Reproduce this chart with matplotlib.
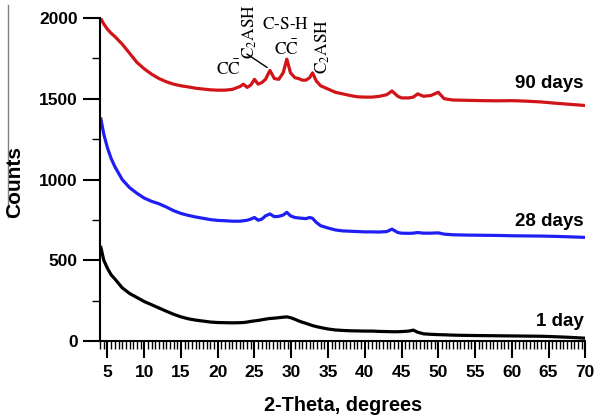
import matplotlib
matplotlib.use("Agg")
import matplotlib.pyplot as plt
from matplotlib.lines import Line2D
from matplotlib.ticker import MultipleLocator

plt.rcParams['font.family'] = ['Liberation Sans', 'DejaVu Sans']
plt.rcParams['mathtext.fontset'] = 'stix'

# 2-theta positions (degrees) and counts for each curing age
two_theta = [4.1, 4.5, 5, 5.5, 6, 7, 8, 9, 10, 11, 12, 13, 14, 15, 16, 17, 18, 19,
             20, 21, 22, 23, 23.5, 24, 24.5, 25, 25.5, 26, 26.5, 27.1, 27.7, 28.3,
             28.9, 29.4, 29.9, 30.5, 31, 31.5, 32, 32.5, 32.9, 33.4, 34, 35, 36, 37,
             38, 39, 40, 41, 42, 43, 43.7, 44.5, 45, 46, 46.6, 47.2, 48, 49, 50, 50.8,
             52, 54, 56, 58, 60, 62, 64, 66, 68, 70]

counts_90d = [1995, 1962, 1930, 1905, 1885, 1838, 1782, 1725, 1685, 1652, 1625, 1605,
              1590, 1580, 1573, 1565, 1560, 1555, 1553, 1553, 1558, 1575, 1590, 1570,
              1585, 1620, 1590, 1600, 1620, 1675, 1625, 1620, 1660, 1745, 1660, 1630,
              1625, 1615, 1615, 1630, 1660, 1610, 1580, 1560, 1540, 1530, 1520, 1512,
              1510, 1510, 1515, 1525, 1548, 1515, 1505, 1505, 1510, 1530, 1515, 1520,
              1540, 1500, 1492, 1490, 1488, 1487, 1488, 1485, 1480, 1472, 1465, 1458]

counts_28d = [1375, 1280, 1195, 1130, 1080, 1000, 950, 915, 885, 865, 850, 830, 807,
              790, 778, 768, 760, 752, 747, 745, 742, 742, 745, 748, 755, 765, 748, 755,
              775, 787, 770, 772, 780, 797, 775, 765, 762, 760, 758, 765, 760, 735, 714,
              700, 688, 682, 680, 678, 676, 676, 675, 678, 693, 672, 668, 667, 668, 672,
              668, 668, 670, 662, 658, 656, 655, 654, 652, 651, 650, 648, 645, 642]

counts_1d = [580, 500, 450, 410, 385, 330, 295, 270, 245, 225, 205, 185, 166, 150, 138,
             130, 124, 118, 115, 114, 113, 114, 115, 118, 122, 125, 128, 132, 136, 140,
             142, 145, 148, 150, 145, 135, 125, 117, 110, 102, 96, 90, 84, 75, 69, 66,
             64, 63, 62, 62, 60, 59, 58, 58, 59, 62, 68, 55, 45, 42, 40, 39, 37, 35, 34,
             33, 32, 31, 30, 27, 23, 18]

series = [("90 days", counts_90d, "#d01418", 1596),
          ("28 days", counts_28d, "#1f1ff5", 739),
          ("1 day", counts_1d, "black", 124)]

fig = plt.figure(figsize=(5.96, 4.17), dpi=100)
ax = fig.add_axes([0.168, 0.182, 0.814, 0.775])

for label, vals, color, label_y in series:
    ax.plot(two_theta, vals, color=color, lw=2.3, solid_joinstyle='round')
    ax.text(69.8, label_y, label, ha='right', va='center', fontsize=13.5,
            fontweight='bold')

ax.set_xlim(4, 70)
ax.set_ylim(0, 2000)
ax.xaxis.set_major_locator(MultipleLocator(5))
ax.xaxis.set_minor_locator(MultipleLocator(0.5))
ax.yaxis.set_major_locator(MultipleLocator(500))
ax.yaxis.set_minor_locator(MultipleLocator(250))

for side in ('top', 'right'):
    ax.spines[side].set_visible(False)
for side in ('left', 'bottom'):
    ax.spines[side].set_linewidth(1.5)

ax.tick_params(axis='both', which='major', length=12, width=1.5, labelsize=12.5,
               pad=4)
ax.tick_params(axis='both', which='minor', length=6, width=1.0)
ax.tick_params(axis='x', which='major', pad=5)
for lab in ax.get_xticklabels() + ax.get_yticklabels():
    lab.set_fontweight('bold')

ax.set_xlabel("2-Theta, degrees", fontsize=14.3, fontweight='bold', labelpad=12)
fig.text(15 / 596, 1 - 182 / 417, "Counts", rotation=90, ha='center', va='center',
         fontsize=15, fontweight='bold')
fig.add_artist(Line2D([8 / 596, 8 / 596], [1 - 5 / 417, 1 - 217 / 417],
                      color='gray', lw=1.0))

# phase labels over the 90-day pattern
ann = dict(fontsize=12.5, ha='center', va='center')
ax.text(21.5, 1690, r'$\mathrm{C\bar{C}}$', **ann)
ax.text(24.4, 1919, r'$\mathrm{C_2ASH}$', rotation=90, **ann)
ax.plot([24.0, 26.7], [1776, 1694], color='black', lw=1.0)
ax.text(29.2, 1963, r'$\mathrm{C\text{-}S\text{-}H}$', **ann)
ax.text(29.3, 1814, r'$\mathrm{C\bar{C}}$', **ann)
ax.text(34.3, 1826, r'$\mathrm{C_2ASH}$', rotation=90, **ann)

fig.savefig("out.png", dpi=100)
